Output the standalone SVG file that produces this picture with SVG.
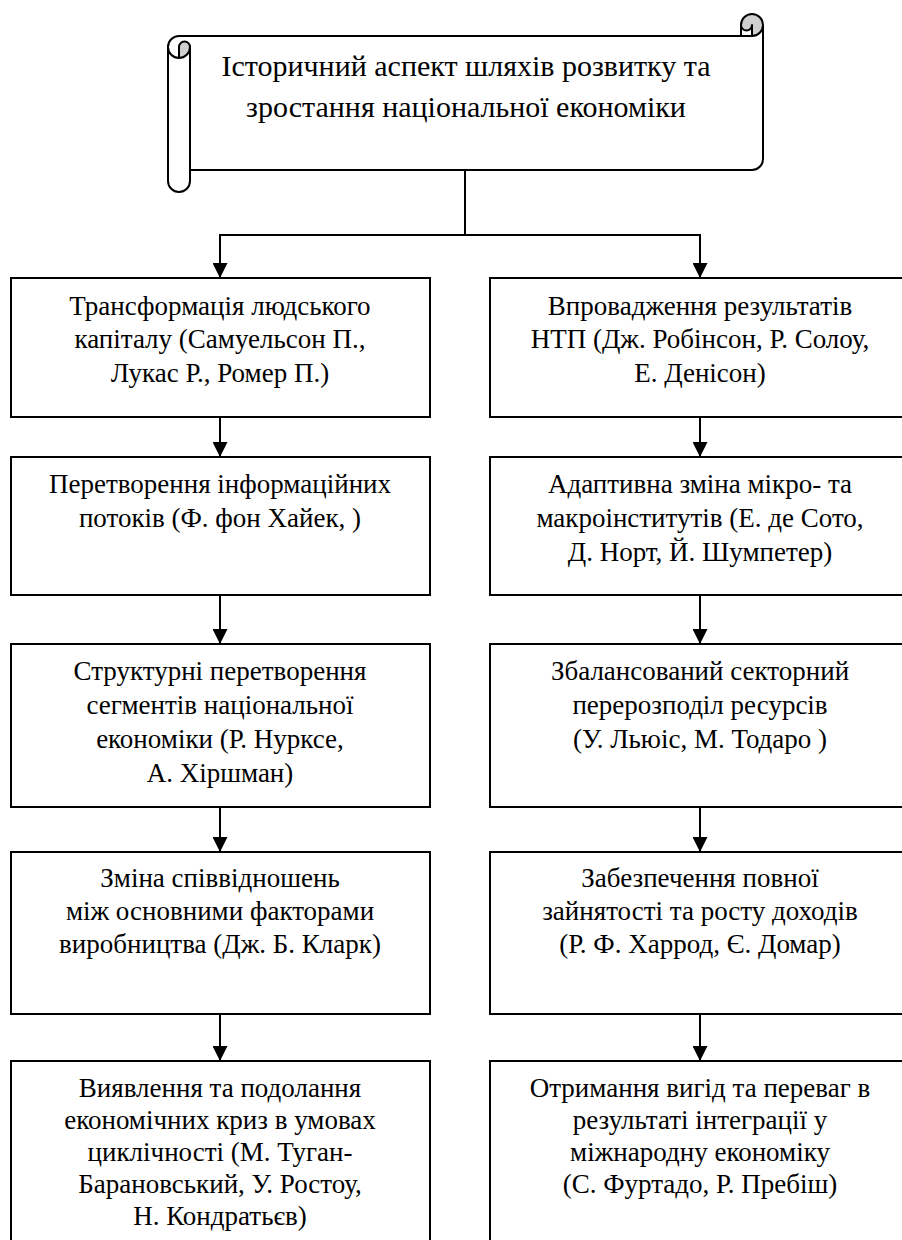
<svg xmlns="http://www.w3.org/2000/svg" width="902" height="1240" viewBox="0 0 902 1240">
<style>
  .box { fill: #ffffff; stroke: #000000; stroke-width: 2; }
  text { fill: #000000; text-anchor: middle; }
  .c { fill: none; stroke: #000000; stroke-width: 2; }
  .sc { fill: none; stroke: #000000; stroke-width: 2; stroke-linejoin: round; }
</style>
<defs>
  <marker id="arr" viewBox="0 0 15 15" refX="15" refY="7.5" markerWidth="15" markerHeight="15" markerUnits="userSpaceOnUse" orient="auto">
    <path d="M0,0 L15,7.5 L0,15 z" fill="#000000"/>
  </marker>
</defs>
<rect width="902" height="1240" fill="#ffffff"/>

<g id="scroll">
  <path d="M168,47 A11,11 0 0 1 179,36 L741,36 L741,25 A11,11 0 0 1 763,25 L763,159 A11,11 0 0 1 752,170 L190,170 L190,181 A11,11 0 0 1 168,181 Z" fill="#ffffff"/>
  <path d="M179,58 A11,11 0 0 0 190,47 A5.5,5.5 0 0 0 179,47 Z" fill="#d0d0d0"/>
  <path d="M752,36 A11,11 0 1 0 741,25 A5.5,5.5 0 0 0 752,25 Z" fill="#d0d0d0"/>
  <path class="sc" d="M168,47 A11,11 0 0 1 179,36 L741,36 L741,25 A11,11 0 0 1 763,25 L763,159 A11,11 0 0 1 752,170 L190,170 L190,181 A11,11 0 0 1 168,181 Z"/>
  <path class="sc" d="M741,36 L752,36 A11,11 0 0 0 763,25 M752,36 L752,25 A5.5,5.5 0 0 1 741,25 M179,58 L179,47 A5.5,5.5 0 0 1 190,47 A11,11 0 0 1 168,47 M190,47 L190,170"/>
  <g font-family="Liberation Serif, Noto Serif, DejaVu Serif, serif" font-size="30">
    <text x="466" y="76">Історичний аспект шляхів розвитку та</text>
    <text x="466" y="117">зростання національної економіки</text>
  </g>
</g>

<g id="connectors">
  <path class="c" d="M465,170 V235 M219,235 H701"/>
  <path class="c" d="M220,235 V278" marker-end="url(#arr)"/>
  <path class="c" d="M700,235 V278" marker-end="url(#arr)"/>
  <path class="c" d="M220,417 V457" marker-end="url(#arr)"/>
  <path class="c" d="M700,417 V457" marker-end="url(#arr)"/>
  <path class="c" d="M220,595 V644" marker-end="url(#arr)"/>
  <path class="c" d="M700,595 V644" marker-end="url(#arr)"/>
  <path class="c" d="M220,807 V852" marker-end="url(#arr)"/>
  <path class="c" d="M700,807 V852" marker-end="url(#arr)"/>
  <path class="c" d="M220,1014 V1061" marker-end="url(#arr)"/>
  <path class="c" d="M700,1014 V1061" marker-end="url(#arr)"/>
</g>

<g font-family="Liberation Serif, Noto Serif, DejaVu Serif, serif" font-size="27">
<g id="L1">
  <rect class="box" x="11" y="278" width="419" height="139"/>
  <text x="220" y="315">Трансформація людського</text>
  <text x="220" y="348">капіталу (Самуельсон П.,</text>
  <text x="220" y="382">Лукас Р., Ромер П.)</text>
</g>
<g id="R1">
  <rect class="box" x="490" y="278" width="419" height="139"/>
  <text x="700" y="315">Впровадження результатів</text>
  <text x="700" y="348">НТП (Дж. Робінсон, Р. Солоу,</text>
  <text x="700" y="382">Е. Денісон)</text>
</g>

<g id="L2">
  <rect class="box" x="11" y="457" width="419" height="138"/>
  <text x="220" y="493">Перетворення інформаційних</text>
  <text x="220" y="527">потоків (Ф. фон Хайек, )</text>
</g>
<g id="R2">
  <rect class="box" x="490" y="457" width="419" height="138"/>
  <text x="700" y="493">Адаптивна зміна мікро- та</text>
  <text x="700" y="527">макроінститутів (Е. де Сото,</text>
  <text x="700" y="561">Д. Норт, Й. Шумпетер)</text>
</g>

<g id="L3">
  <rect class="box" x="11" y="644" width="419" height="163"/>
  <text x="220" y="680">Структурні перетворення</text>
  <text x="220" y="714">сегментів національної</text>
  <text x="220" y="748">економіки (Р. Нурксе,</text>
  <text x="220" y="782">А. Хіршман)</text>
</g>
<g id="R3">
  <rect class="box" x="490" y="644" width="419" height="163"/>
  <text x="700" y="680">Збалансований секторний</text>
  <text x="700" y="714">перерозподіл ресурсів</text>
  <text x="700" y="748">(У. Льюіс, М. Тодаро )</text>
</g>

<g id="L4">
  <rect class="box" x="11" y="852" width="419" height="162"/>
  <text x="220" y="887">Зміна співвідношень</text>
  <text x="220" y="920">між основними факторами</text>
  <text x="220" y="953">виробництва (Дж. Б. Кларк)</text>
</g>
<g id="R4">
  <rect class="box" x="490" y="852" width="419" height="162"/>
  <text x="700" y="887">Забезпечення повної</text>
  <text x="700" y="920">зайнятості та росту доходів</text>
  <text x="700" y="953">(Р. Ф. Харрод, Є. Домар)</text>
</g>

<g id="L5">
  <rect class="box" x="11" y="1061" width="419" height="200"/>
  <text x="220" y="1097">Виявлення та подолання</text>
  <text x="220" y="1129">економічних криз в умовах</text>
  <text x="220" y="1161">циклічності (М. Туган-</text>
  <text x="220" y="1193">Барановський, У. Ростоу,</text>
  <text x="220" y="1225">Н. Кондратьєв)</text>
</g>
<g id="R5">
  <rect class="box" x="490" y="1061" width="419" height="200"/>
  <text x="700" y="1097">Отримання вигід та переваг в</text>
  <text x="700" y="1129">результаті інтеграції у</text>
  <text x="700" y="1161">міжнародну економіку</text>
  <text x="700" y="1193">(С. Фуртадо, Р. Пребіш)</text>
</g>
</g>
</svg>
